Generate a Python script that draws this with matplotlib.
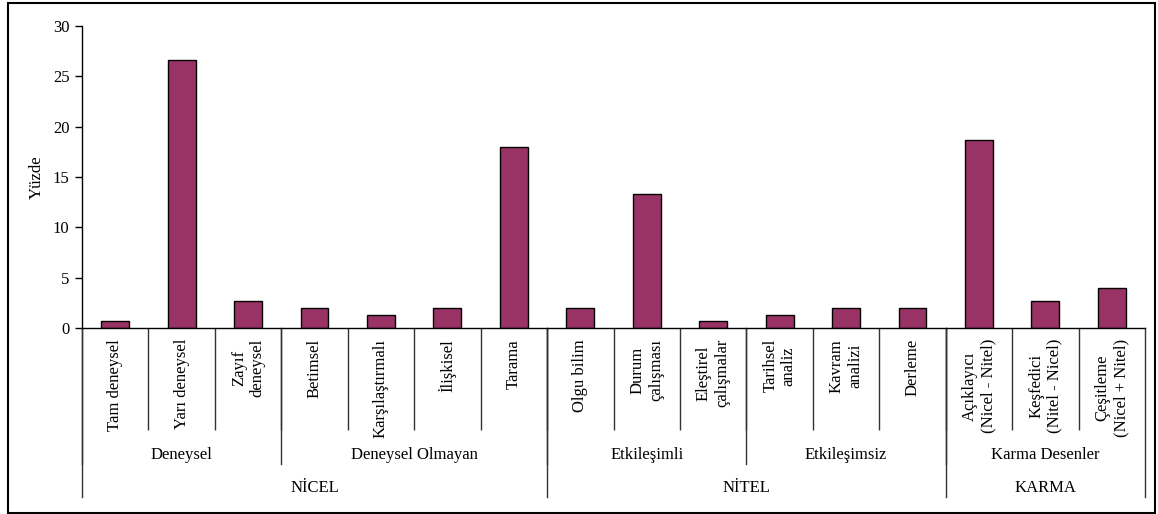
import matplotlib.pyplot as plt
from matplotlib.patches import Rectangle
import matplotlib.transforms as mtransforms

plt.rcParams['font.family'] = ['Liberation Serif', 'DejaVu Serif']
plt.rcParams['font.size'] = 12

# research designs and their share (%)
desenler = ['Tam deneysel', 'Yarı deneysel', 'Zayıf\ndeneysel',
            'Betimsel', 'Karşılaştırmalı', 'İlişkisel', 'Tarama',
            'Olgu bilim', 'Durum\nçalışması', 'Eleştirel\nçalışmalar',
            'Tarihsel\nanaliz', 'Kavram\nanalizi', 'Derleme',
            'Açıklayıcı\n(Nicel - Nitel)', 'Keşfedici\n(Nitel - Nicel)',
            'Çeşitleme\n(Nicel + Nitel)']
yuzde = [0.67, 26.67, 2.67,
         2.0, 1.33, 2.0, 18.0,
         2.0, 13.33, 0.67,
         1.33, 2.0, 2.0,
         18.67, 2.67, 4.0]

# second level groups: (name, first index, last index)
alt_gruplar = [('Deneysel', 0, 2), ('Deneysel Olmayan', 3, 6),
               ('Etkileşimli', 7, 9), ('Etkileşimsiz', 10, 12),
               ('Karma Desenler', 13, 15)]
# top level groups
ana_gruplar = [('NİCEL', 0, 6), ('NİTEL', 7, 12), ('KARMA', 13, 15)]

fig = plt.figure(figsize=(11.58, 5.14), dpi=100)
ax = fig.add_axes([0.0708, 0.3619, 0.9180, 0.5875])

x = list(range(len(desenler)))
ax.bar(x, yuzde, width=0.42, color='#993366', edgecolor='black', linewidth=1)

ax.set_xlim(-0.5, len(desenler) - 0.5)
ax.set_ylim(0, 30)
ax.set_yticks([0, 5, 10, 15, 20, 25, 30])
ax.set_ylabel('Yüzde', labelpad=6)

for s in ['top', 'right']:
    ax.spines[s].set_visible(False)
ax.spines['left'].set_linewidth(1)
ax.spines['bottom'].set_linewidth(1)
ax.tick_params(axis='y', length=5, width=1, pad=4)

# category labels, separators drawn as long minor ticks
ax.set_xticks(x)
ax.set_xticklabels(desenler, rotation=90, va='top', ha='center',
                   multialignment='center')
ax.tick_params(axis='x', which='major', length=0, pad=8)
ax.set_xticks([i + 0.5 for i in x[:-1]], minor=True)
ax.tick_params(axis='x', which='minor', length=73.5, width=1, color='#333333')

trans = mtransforms.blended_transform_factory(ax.transData, ax.transAxes)
alt_alt = -0.4503
ana_alt = -0.5596

for ad, i0, i1 in alt_gruplar:
    ax.text((i0 + i1) / 2, -0.4205, ad, transform=trans,
            ha='center', va='center')
    ax.plot([i0 - 0.5, i0 - 0.5], [0, alt_alt], transform=trans,
            color='#333333', lw=1, clip_on=False)

for ad, i0, i1 in ana_gruplar:
    ax.text((i0 + i1) / 2, -0.5298, ad, transform=trans,
            ha='center', va='center')
    ax.plot([i0 - 0.5, i0 - 0.5], [0, ana_alt], transform=trans,
            color='#333333', lw=1, clip_on=False)
ax.plot([len(desenler) - 0.5] * 2, [0, ana_alt], transform=trans,
        color='#333333', lw=1, clip_on=False)

# frame around the whole chart
fig.patches.append(Rectangle((8 / 1158, 1.5 / 514), 1147 / 1158, 510 / 514,
                             transform=fig.transFigure, fill=False,
                             edgecolor='black', linewidth=1.5))

fig.savefig('out.png', dpi=100)
